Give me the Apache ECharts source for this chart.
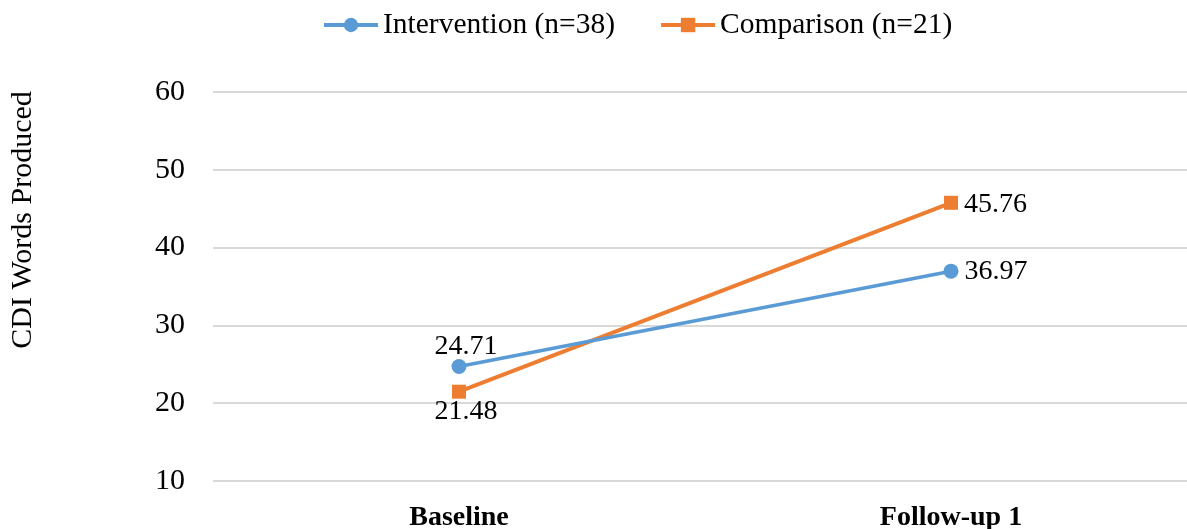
<!DOCTYPE html>
<html>
<head>
<meta charset="utf-8">
<script src="https://cdn.jsdelivr.net/npm/echarts@6/dist/echarts.min.js"></script>
<style>
html,body{margin:0;padding:0;background:#fff;overflow:hidden;width:1187px;height:529px;}
#chart{width:1197px;height:529px;}
</style>
</head>
<body>
<div id="chart"></div>
<script>
const categories = ['Baseline', 'Follow-up 1'];
const interventionName = 'Intervention (n=38)';
const comparisonName = 'Comparison (n=21)';
const interventionValues = [24.71, 36.97];
const comparisonValues = [21.48, 45.76];
const yTicks = [10, 20, 30, 40, 50, 60];
const yTitle = 'CDI Words Produced';

const FONT = '"Liberation Serif", "Times New Roman", serif';
const chart = echarts.init(document.getElementById('chart'), null, {renderer: 'canvas'});
chart.setOption({
  animation: false,
  backgroundColor: '#fff',
  textStyle: {fontFamily: FONT, color: '#000'},
  legend: {
    left: 317,
    top: 5,
    itemWidth: 54,
    itemHeight: 18,
    itemGap: 44,
    lineStyle: {width: 4},
    textStyle: {fontFamily: FONT, fontSize: 29.5, color: '#000'},
    data: [interventionName, comparisonName]
  },
  grid: {left: 213, top: 92, right: 0, bottom: 48, containLabel: false, outerBoundsMode: 'none'},
  xAxis: {
    type: 'category',
    data: categories,
    boundaryGap: true,
    axisLine: {show: false},
    axisTick: {show: false},
    axisLabel: {fontFamily: FONT, fontSize: 28, fontWeight: 'bold', color: '#000', margin: 23}
  },
  yAxis: {
    type: 'value',
    min: yTicks[0],
    max: yTicks[yTicks.length - 1],
    interval: 10,
    axisLine: {show: false},
    axisTick: {show: false},
    axisLabel: {fontFamily: FONT, fontSize: 30, color: '#000', margin: 28},
    splitLine: {show: true, lineStyle: {color: '#d9d9d9', width: 2}}
  },
  graphic: [{
    type: 'text',
    x: 23,
    y: 220,
    rotation: Math.PI / 2,
    style: {text: yTitle, font: '30px ' + FONT, fill: '#000', align: 'center', verticalAlign: 'middle'}
  }],
  series: [
    {
      name: interventionName,
      type: 'line',
      data: interventionValues.map((v, i) => i === 0
        ? {value: v, label: {position: 'top', distance: 4, offset: [7, 6]}}
        : {value: v, label: {position: 'right', distance: 6, offset: [0, 0]}}),
      color: '#5B9BD5',
      symbol: 'circle',
      symbolSize: 15,
      lineStyle: {width: 3.5, color: '#5B9BD5'},
      itemStyle: {color: '#5B9BD5'},
      label: {
        show: true,
        fontFamily: FONT, fontSize: 28, color: '#000',
        formatter: p => p.value.toFixed(2)
      },
      z: 3
    },
    {
      name: comparisonName,
      type: 'line',
      data: comparisonValues.map((v, i) => i === 0
        ? {value: v, label: {position: 'bottom', distance: 2, offset: [7, -3]}}
        : {value: v, label: {position: 'right', distance: 6, offset: [0, 2]}}),
      color: '#ED7D31',
      symbol: 'rect',
      symbolSize: 14,
      lineStyle: {width: 4, color: '#ED7D31'},
      itemStyle: {color: '#ED7D31'},
      label: {
        show: true,
        fontFamily: FONT, fontSize: 28, color: '#000',
        formatter: p => p.value.toFixed(2)
      },
      z: 2
    }
  ]
});
</script>
</body>
</html>
